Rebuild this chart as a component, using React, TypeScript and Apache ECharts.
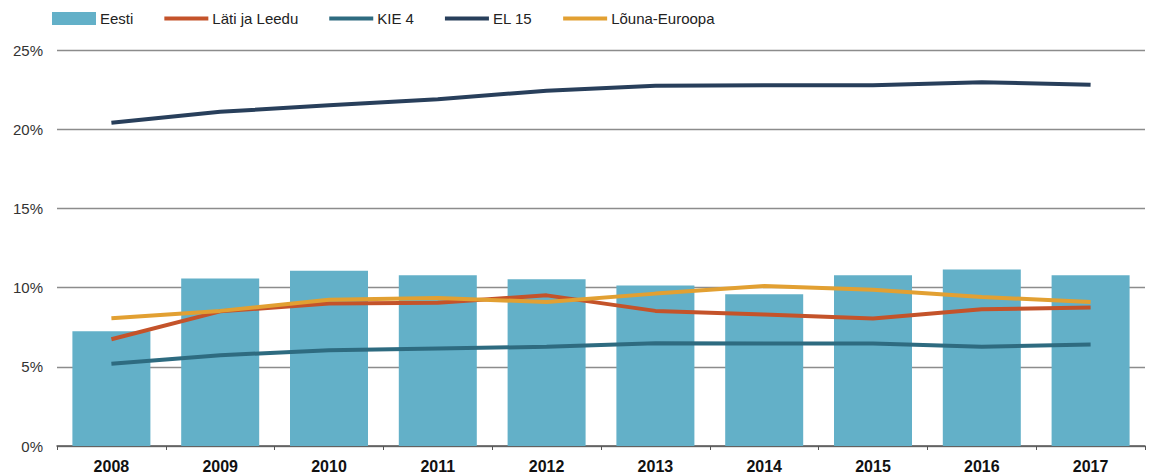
import React, { useEffect, useRef } from "react";
import * as echarts from "echarts";

const years = ["2008", "2009", "2010", "2011", "2012", "2013", "2014", "2015", "2016", "2017"];
const eesti = [7.25, 10.57, 11.07, 10.78, 10.52, 10.14, 9.58, 10.78, 11.15, 10.78];
const latiLeedu = [6.74, 8.5, 8.99, 9.05, 9.51, 8.53, 8.3, 8.05, 8.63, 8.74];
const kie4 = [5.19, 5.73, 6.05, 6.16, 6.26, 6.49, 6.47, 6.47, 6.26, 6.41];
const el15 = [20.4, 21.1, 21.51, 21.89, 22.43, 22.75, 22.78, 22.78, 22.97, 22.8];
const lounaEuroopa = [8.07, 8.53, 9.24, 9.35, 9.09, 9.62, 10.1, 9.87, 9.41, 9.09];
const yTicks = [0, 5, 10, 15, 20, 25];

const FONT = "'Liberation Sans', Arial, Helvetica, sans-serif";
const LINE_ICON = "path://M0,0H44V4H0Z";

export default function App() {
  const ref = useRef<HTMLDivElement>(null);
  useEffect(() => {
    if (!ref.current) return;
    const chart = echarts.init(ref.current, undefined, { renderer: "svg" });
    const lineSeries = (name: string, data: number[], color: string) => ({
      name,
      type: "line",
      data,
      symbol: "none",
      showSymbol: false,
      z: 3,
      lineStyle: { color, width: 4 },
      itemStyle: { color },
    });
    chart.setOption({
      animation: false,
      textStyle: { fontFamily: FONT },
      legend: {
        left: 52,
        top: 11,
        padding: 0,
        itemWidth: 44,
        itemHeight: 13,
        itemGap: 31,
        symbolKeepAspect: true,
        textStyle: { fontFamily: FONT, fontSize: 15, color: "#222", padding: [0, 0, 0, -1] },
        data: [
          { name: "Eesti", icon: "rect" },
          { name: "Läti ja Leedu", icon: LINE_ICON },
          { name: "KIE 4", icon: LINE_ICON },
          { name: "EL 15", icon: LINE_ICON },
          { name: "Lõuna-Euroopa", icon: LINE_ICON },
        ],
      },
      grid: { left: 57, right: 9, top: 50, bottom: 28, containLabel: false },
      xAxis: {
        type: "category",
        data: years,
        boundaryGap: true,
        axisLine: { show: true, lineStyle: { color: "#555", width: 1.5 } },
        axisTick: { show: true, length: 4, lineStyle: { color: "#555", width: 1 } },
        axisLabel: { fontFamily: FONT, fontSize: 16, fontWeight: "bold", color: "#111", margin: 12 },
      },
      yAxis: {
        type: "value",
        min: yTicks[0],
        max: yTicks[yTicks.length - 1],
        interval: 5,
        axisLine: { show: false },
        axisTick: { show: false },
        splitLine: { show: true, lineStyle: { color: "#8c8c8c", width: 1.3 } },
        axisLabel: {
          fontFamily: FONT,
          fontSize: 15,
          color: "#333",
          margin: 14,
          formatter: (v: number) => `${v}%`,
        },
      },
      series: [
        {
          name: "Eesti",
          type: "bar",
          data: eesti,
          barWidth: 78,
          z: 2,
          itemStyle: { color: "#63B0C8" },
        },
        lineSeries("Läti ja Leedu", latiLeedu, "#C4532A"),
        lineSeries("KIE 4", kie4, "#2E6B80"),
        lineSeries("EL 15", el15, "#283F5B"),
        lineSeries("Lõuna-Euroopa", lounaEuroopa, "#E2A032"),
      ],
    });
    return () => chart.dispose();
  }, []);
  return <div ref={ref} style={{ width: 1154, height: 474, position: "absolute", left: 0, top: 0 }} />;
}
